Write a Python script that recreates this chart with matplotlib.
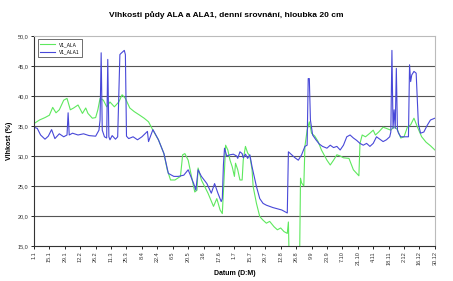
import numpy as np
import matplotlib
matplotlib.use('Agg')
import matplotlib.pyplot as plt

# day of year (0 = 1.1., leap year) and soil moisture
ala_day = [0, 5, 10, 14, 17, 20, 23, 27, 30, 33, 36, 40, 44, 47, 49, 53, 56, 58,
           60, 63, 66, 69, 73, 77, 80, 83, 87, 91, 96, 100, 104, 108, 113, 118, 121,
           124, 128, 133, 135, 137, 140, 143, 146, 148, 149, 152, 155, 158, 163, 166,
           169, 171, 173, 174, 176, 178, 180, 182, 183, 185, 187, 189, 190, 192, 194,
           196, 198, 199, 202, 205, 208, 211, 214, 218, 221, 224, 227, 230, 231, 232,
           241, 242, 243, 245, 246, 248, 250, 252, 255, 258, 261, 266, 269, 272, 275,
           278, 281, 286, 290, 295, 296, 298, 301, 305, 308, 310, 313, 317, 320, 324,
           327, 330, 333, 336, 339, 342, 345, 348, 352, 356, 360, 364]
ala_val = [35.4, 36.0, 36.4, 36.8, 38.1, 37.2, 37.7, 39.3, 39.6, 37.7, 38.0, 38.5,
           37.1, 38.0, 37.1, 36.3, 36.4, 37.7, 39.6, 39.3, 38.2, 39.0, 38.2, 39.0,
           40.2, 39.6, 38.0, 37.4, 36.8, 36.3, 35.7, 34.3, 32.7, 30.4, 27.7, 26.0,
           26.0, 26.6, 30.2, 30.4, 29.3, 26.6, 24.0, 24.3, 28.0, 26.0, 24.9, 23.8,
           21.6, 22.9, 21.0, 20.4, 27.7, 31.8, 31.0, 29.3, 28.2, 26.6, 28.8, 27.7,
           26.0, 26.0, 29.3, 31.6, 30.5, 30.0, 27.7, 24.9, 22.1, 19.9, 19.3, 18.8,
           19.1, 18.2, 17.7, 18.0, 17.4, 17.1, 19.0, 10.0, 10.0, 26.3, 25.5, 25.0,
           31.6, 34.3, 35.7, 33.8, 33.3, 32.4, 31.0, 29.3, 28.5, 29.3, 30.2, 30.0,
           29.7, 29.6, 27.7, 26.7, 32.1, 33.5, 33.2, 33.8, 34.3, 33.5, 34.0, 34.8,
           34.6, 34.3, 34.9, 34.4, 33.0, 33.2, 34.8, 35.2, 36.3, 34.9, 33.2, 32.3,
           31.7, 31.0]

ala1_day = [0, 3, 6, 10, 13, 16, 19, 23, 27, 30, 31, 32, 35, 40, 45, 50, 56, 59,
            60, 61, 62, 64, 66, 67, 68, 69, 71, 74, 76, 78, 79, 82, 83, 84, 86, 90,
            94, 98, 103, 104, 108, 113, 118, 122, 127, 131, 136, 140, 145, 147, 149,
            152, 157, 161, 164, 167, 170, 171, 172, 173, 175, 178, 181, 184, 185, 187,
            189, 190, 192, 194, 196, 198, 202, 205, 208, 211, 214, 217, 221, 225, 229,
            230, 231, 234, 237, 240, 243, 246, 248, 249, 250, 251, 253, 256, 259, 262,
            266, 269, 272, 275, 278, 281, 284, 287, 290, 293, 296, 299, 302, 305, 308,
            311, 314, 317, 320, 323, 324, 325, 326, 327, 328, 329, 330, 331, 333, 337,
            340, 341, 342, 343, 345, 347, 349, 351, 354, 357, 360, 364]
ala1_val = [34.8, 34.6, 33.5, 32.8, 33.3, 34.4, 32.9, 33.7, 33.2, 33.5, 37.2, 33.5,
            33.8, 33.5, 33.7, 33.4, 33.3, 34.3, 36.0, 47.2, 34.3, 33.2, 33.0, 46.1,
            33.2, 32.7, 33.4, 32.8, 33.2, 46.9, 47.1, 47.6, 46.9, 33.3, 32.9, 33.2,
            32.7, 33.2, 34.1, 32.4, 34.4, 32.7, 30.4, 27.1, 26.6, 26.6, 26.8, 27.7,
            25.4, 24.3, 27.7, 26.6, 25.4, 23.8, 25.4, 23.8, 22.4, 22.9, 28.5, 31.3,
            30.0, 30.2, 30.3, 30.0, 29.6, 30.7, 30.4, 29.7, 30.3, 29.6, 30.2, 28.2,
            24.9, 22.9, 22.1, 21.8, 21.6, 21.4, 21.2, 21.0, 20.6, 20.5, 30.7, 30.2,
            29.7, 29.3, 30.2, 31.6, 31.8, 42.9, 42.9, 36.0, 33.5, 32.7, 32.0, 31.6,
            31.3, 31.8, 31.4, 31.6, 31.0, 31.8, 33.2, 33.5, 33.0, 32.6, 32.1, 31.8,
            32.1, 31.6, 32.1, 33.2, 32.8, 32.4, 32.7, 33.2, 34.0, 47.6, 34.6, 37.7,
            34.6, 44.6, 34.3, 33.8, 33.2, 33.2, 33.2, 45.2, 42.4, 43.5, 44.1, 43.8,
            35.4, 33.8, 34.0, 35.1, 36.0, 36.3]

tick_days = list(range(0, 365, 14))
tick_labels = ['1.1', '15.1', '29.1', '12.2', '26.2', '11.3', '25.3', '8.4', '22.4',
               '6.5', '20.5', '3.6', '17.6', '1.7', '15.7', '29.7', '12.8', '26.8',
               '9.9', '23.9', '7.10', '21.10', '4.11', '18.11', '2.12', '16.12', '30.12']
y_ticks = [15, 20, 25, 30, 35, 40, 45, 50]

plt.rcParams['font.family'] = ['Liberation Sans', 'DejaVu Sans']

fig = plt.figure(figsize=(4.53, 2.81), dpi=100)
ax = fig.add_axes([0.075, 0.1246, 0.885, 0.7473])

ax.plot(ala_day, ala_val, color='#5ee85e', lw=0.8, label='V1_ALA')
ax.plot(ala1_day, ala1_val, color='#4848d8', lw=0.8, label='V1_ALA1')

ax.set_xlim(0, 364)
ax.set_ylim(15, 50)
ax.set_yticks(y_ticks)
ax.set_yticklabels(['%.1f' % v for v in y_ticks], fontsize=4, color='#333333')
ax.set_xticks(tick_days)
ax.set_xticklabels(tick_labels, rotation=90, fontsize=4, color='#333333')
ax.tick_params(length=2, width=0.6, pad=2)
# excel style: decimal comma
ax.set_yticklabels([('%.1f' % v).replace('.', ',') for v in y_ticks])

for v in y_ticks[1:-1]:
    ax.axhline(v, color='#555555', lw=0.8, zorder=0)

for s in ['left', 'bottom']:
    ax.spines[s].set_color('#333333')
    ax.spines[s].set_linewidth(0.8)
for s in ['top', 'right']:
    ax.spines[s].set_color('#bbbbbb')
    ax.spines[s].set_linewidth(0.8)

ax.set_xlabel('Datum (D:M)', fontsize=5, fontweight='bold', labelpad=3)
ax.set_ylabel('Vlhkost (%)', fontsize=5, fontweight='bold', labelpad=3)
fig.text(0.5, 0.945, 'Vlhkosti půdy ALA a ALA1, denní srovnání, hloubka 20 cm',
         ha='center', va='center', fontsize=6, fontweight='bold')

leg = ax.legend(loc='upper left', fontsize=3.5, frameon=True, fancybox=False,
                edgecolor='black', borderpad=0.5, handlelength=3, labelspacing=0.6,
                bbox_to_anchor=(0.003, 0.995))
leg.get_frame().set_linewidth(0.5)

fig.savefig('out.png', dpi=100)
